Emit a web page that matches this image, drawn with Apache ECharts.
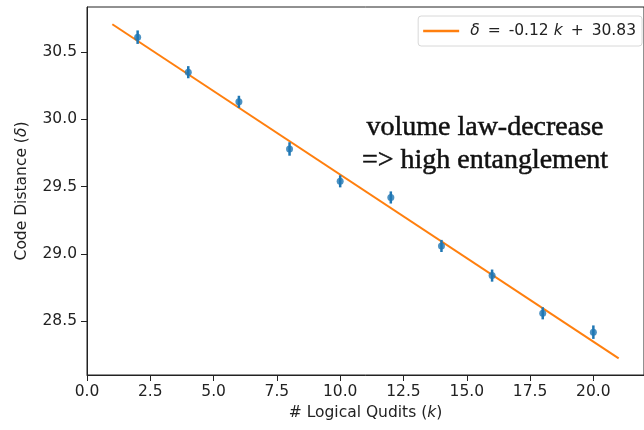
<!DOCTYPE html>
<html>
<head>
<meta charset="utf-8">
<title>Code distance vs logical qudits</title>
<script src="https://cdn.jsdelivr.net/npm/echarts@6/dist/echarts.min.js"></script>
<style>
  html, body { margin: 0; padding: 0; background: #fff; }
  #chart { width: 644px; height: 430px; }
</style>
</head>
<body>
<div id="chart"></div>
<script>
// Measured code distance for each number of logical qudits
const kValues = [2, 4, 6, 8, 10, 12, 14, 16, 18, 20];
const deltaValues = [30.61, 30.35, 30.13, 29.78, 29.54, 29.42, 29.06, 28.84, 28.56, 28.42];
const deltaErrors = [0.05, 0.045, 0.045, 0.05, 0.045, 0.045, 0.045, 0.045, 0.045, 0.05];

// Linear fit  delta = slope * k + intercept, drawn over k in [1, 21]
const fitSlope = -0.124;
const fitIntercept = 30.83;
const fitKRange = [1, 21];

// Axis ticks
const xTicks = [0, 2.5, 5, 7.5, 10, 12.5, 15, 17.5, 20];
const yTicks = [28.5, 29.0, 29.5, 30.0, 30.5];

// Annotation lines
const noteLines = ['volume law-decrease', '=> high entanglement'];

const points = kValues.map((k, i) => [k, deltaValues[i], deltaErrors[i]]);
const fitLine = fitKRange.map(k => [k, fitIntercept + fitSlope * k]);
const fitName = 'fit';
const fitLabel = '{g|}{i|δ}{op|=}' + fitSlope.toFixed(2) + ' {i|k}{op|+}' + fitIntercept.toFixed(2);

const blue = '#1f77b4';
const orange = '#ff7f0e';
const ink = '#222';
const font = 'DejaVu Sans';
const fs = 15.5;
const italic = { fontFamily: font, fontStyle: 'italic', fontSize: fs, color: ink };

const chart = echarts.init(document.getElementById('chart'), null, { renderer: 'canvas' });

chart.setOption({
  animation: false,
  backgroundColor: '#fff',
  grid: {
    left: 87, top: 7, right: -8, bottom: 55,
    show: true, borderColor: ink, borderWidth: 1, backgroundColor: 'transparent'
  },
  legend: {
    data: [{ name: fitName, icon: 'rect' }],
    right: 2, top: 16,
    orient: 'vertical',
    padding: [7, 6, 7, 5],
    borderColor: '#d8d8d8', borderWidth: 1, borderRadius: 3,
    backgroundColor: '#fff',
    itemWidth: 36, itemHeight: 2.5, itemGap: 0,
    itemStyle: { color: orange },
    formatter: () => fitLabel,
    textStyle: {
      fontFamily: font, fontSize: fs, color: ink,
      rich: {
        i: italic,
        g: { width: 6 },
        op: { fontFamily: font, fontSize: fs, color: ink, padding: [0, 8, 0, 8] }
      }
    }
  },
  xAxis: {
    type: 'value', min: 0, max: 22,
    name: '# Logical Qudits ({i|k})',
    nameLocation: 'middle', nameGap: 27,
    nameTextStyle: { fontFamily: font, fontSize: fs, color: ink, rich: { i: italic } },
    axisLine: { show: true, lineStyle: { color: ink, width: 1 } },
    axisTick: { show: true, inside: false, length: 6, lineStyle: { color: ink }, customValues: xTicks },
    axisLabel: {
      show: true, margin: 9, fontFamily: font, fontSize: fs, color: ink,
      customValues: xTicks,
      formatter: v => v.toFixed(1)
    },
    splitLine: { show: false }
  },
  yAxis: {
    type: 'value', min: 28.102, max: 30.834,
    name: 'Code Distance ({i|δ})',
    nameLocation: 'middle', nameGap: 57, nameRotate: 90,
    nameTextStyle: { fontFamily: font, fontSize: fs, color: ink, rich: { i: italic } },
    axisLine: { show: true, lineStyle: { color: ink, width: 1 } },
    axisTick: { show: true, inside: false, length: 6, lineStyle: { color: ink }, customValues: yTicks },
    axisLabel: {
      show: true, margin: 10, fontFamily: font, fontSize: fs, color: ink,
      customValues: yTicks,
      formatter: v => v.toFixed(1)
    },
    splitLine: { show: false }
  },
  graphic: noteLines.map((line, i) => ({
    type: 'text',
    x: 485, y: 128 + i * 32.5,
    z: 10,
    style: {
      text: line,
      font: '28px "Liberation Serif"',
      fill: '#111', stroke: '#111', lineWidth: 0.5,
      align: 'center', verticalAlign: 'middle'
    }
  })),
  series: [
    {
      name: fitName,
      type: 'line',
      data: fitLine,
      symbol: 'none',
      lineStyle: { color: orange, width: 2 },
      itemStyle: { color: orange },
      z: 2
    },
    {
      name: 'error',
      type: 'custom',
      data: points,
      encode: { x: 0, y: 1 },
      renderItem: (params, api) => {
        const k = api.value(0), d = api.value(1), e = api.value(2);
        const lo = api.coord([k, d - e]);
        const hi = api.coord([k, d + e]);
        return {
          type: 'line',
          shape: { x1: lo[0], y1: lo[1], x2: hi[0], y2: hi[1] },
          style: { stroke: blue, lineWidth: 2.5 }
        };
      },
      z: 3
    },
    {
      name: 'measured',
      type: 'scatter',
      data: points,
      symbol: 'circle',
      symbolSize: 7,
      itemStyle: { color: blue },
      z: 4
    }
  ]
});
</script>
</body>
</html>
